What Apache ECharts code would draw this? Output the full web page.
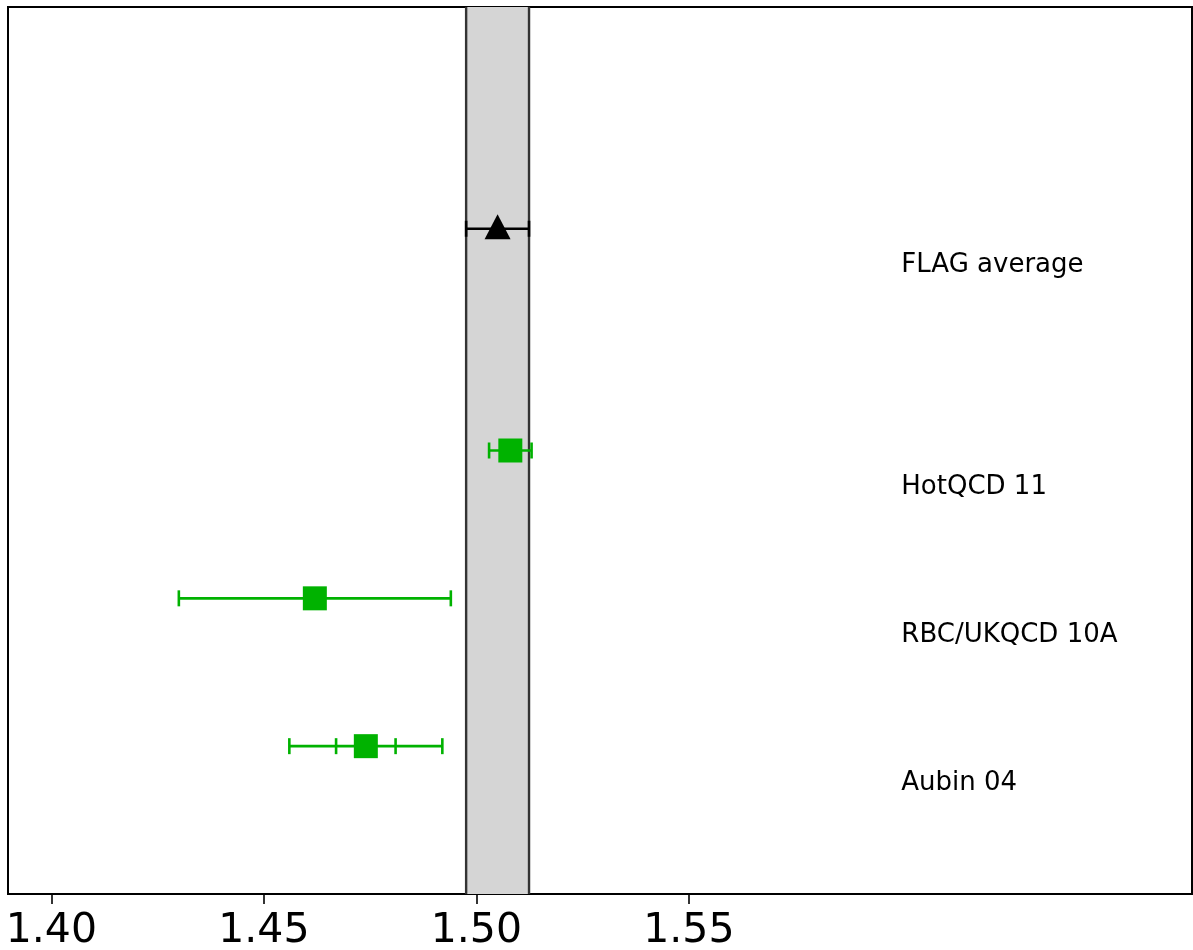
<!DOCTYPE html>
<html>
<head>
<meta charset="utf-8">
<script src="https://cdn.jsdelivr.net/npm/echarts@6/dist/echarts.min.js"></script>
<style>html,body{margin:0;padding:0;background:#fff}#c{width:1193px;height:950px}</style>
</head>
<body>
<div id="c"></div>
<script>
// Data
const names = ['Aubin 04', 'RBC/UKQCD 10A', 'HotQCD 11', 'FLAG average'];
const rowY = [1, 2, 3, 4.5];
const centralValues = [1.474, 1.462, 1.508, 1.505];
const statErrors = [0.007, 0.032, 0.005, 0.0074];
const totalErrors = [0.018, 0.032, 0.005, 0.0074];
const isAverage = [false, false, false, true];
const bandLow = 1.4976;
const bandHigh = 1.5124;
const tickValues = [1.40, 1.45, 1.50, 1.55];
const labelX = 1.600;
const labelOffset = -0.25;

const green = '#00b200';

const errData = names.map((n, i) => [centralValues[i], rowY[i], statErrors[i], totalErrors[i], isAverage[i] ? 1 : 0]);

function errRender(params, api) {
  const x = api.value(0), y = api.value(1), se = api.value(2), te = api.value(3), avg = api.value(4);
  const color = avg ? '#000' : green;
  const lw = 2.6;
  const capH = 8;
  const pL = api.coord([x - te, y]);
  const pR = api.coord([x + te, y]);
  const children = [{
    type: 'line', shape: {x1: pL[0], y1: pL[1], x2: pR[0], y2: pR[1]},
    style: {stroke: color, lineWidth: lw}
  }];
  const caps = [x - te, x + te];
  if (Math.abs(se - te) > 1e-9) { caps.push(x - se, x + se); }
  caps.forEach(cx => {
    const p = api.coord([cx, y]);
    children.push({type: 'line', shape: {x1: p[0], y1: p[1] - capH, x2: p[0], y2: p[1] + capH},
      style: {stroke: color, lineWidth: lw}});
  });
  return {type: 'group', children};
}

function bandRender(params, api) {
  const p1 = api.coord([bandLow, 6]);
  const p2 = api.coord([bandHigh, 0]);
  return {type: 'group', children: [
    {type: 'rect', shape: {x: p1[0], y: p1[1], width: p2[0] - p1[0], height: p2[1] - p1[1]},
     style: {fill: '#d5d5d5', stroke: null}},
    {type: 'line', shape: {x1: p1[0], y1: p1[1], x2: p1[0], y2: p2[1]}, style: {stroke: '#333', lineWidth: 2.4}},
    {type: 'line', shape: {x1: p2[0], y1: p1[1], x2: p2[0], y2: p2[1]}, style: {stroke: '#333', lineWidth: 2.4}}
  ]};
}

function labelRender(params, api) {
  const i = params.dataIndex;
  const p = api.coord([labelX, rowY[i] + labelOffset]);
  return {type: 'text', x: p[0], y: p[1], style: {text: names[i], fill: '#000',
    fontSize: 26, fontFamily: 'DejaVu Sans', align: 'left', verticalAlign: 'middle'}};
}

const chart = echarts.init(document.getElementById('c'), null, {renderer: 'canvas'});
chart.setOption({
  animation: false,
  backgroundColor: '#fff',
  grid: {left: 8, right: 1, top: 7, bottom: 56, containLabel: false, outerBoundsMode: 'none',
         show: true, borderColor: '#000', borderWidth: 2, backgroundColor: 'transparent'},
  xAxis: {
    type: 'value', min: 1.3898, max: 1.6684,
    splitLine: {show: false},
    axisLine: {show: false},
    axisTick: {show: true, length: 10, inside: false, lineStyle: {color: '#000', width: 1.6}, customValues: tickValues},
    axisLabel: {show: true, customValues: tickValues, formatter: v => v.toFixed(2), fontSize: 41, fontFamily: 'DejaVu Sans', color: '#000', margin: 17}
  },
  yAxis: {type: 'value', min: 0, max: 6, show: false},
  series: [
    {type: 'custom', renderItem: bandRender, data: [[bandLow, 0]], z: 1, silent: true, clip: true},
    {type: 'custom', renderItem: errRender, data: errData, z: 3, encode: {x: 0, y: 1}, silent: true},
    {type: 'scatter', data: errData.filter(d => !d[4]).map(d => [d[0], d[1]]), symbol: 'rect', symbolSize: 24,
     itemStyle: {color: green, opacity: 1}, z: 4},
    {type: 'scatter', data: errData.filter(d => d[4]).map(d => [d[0], d[1]]), symbol: 'triangle', symbolSize: [26, 25],
     symbolOffset: [0, -2], itemStyle: {color: '#000', opacity: 1}, z: 4},
    {type: 'custom', renderItem: labelRender, data: names.map((n, i) => [labelX, rowY[i] + labelOffset]), z: 5, silent: true, clip: false}
  ]
});
</script>
</body>
</html>
